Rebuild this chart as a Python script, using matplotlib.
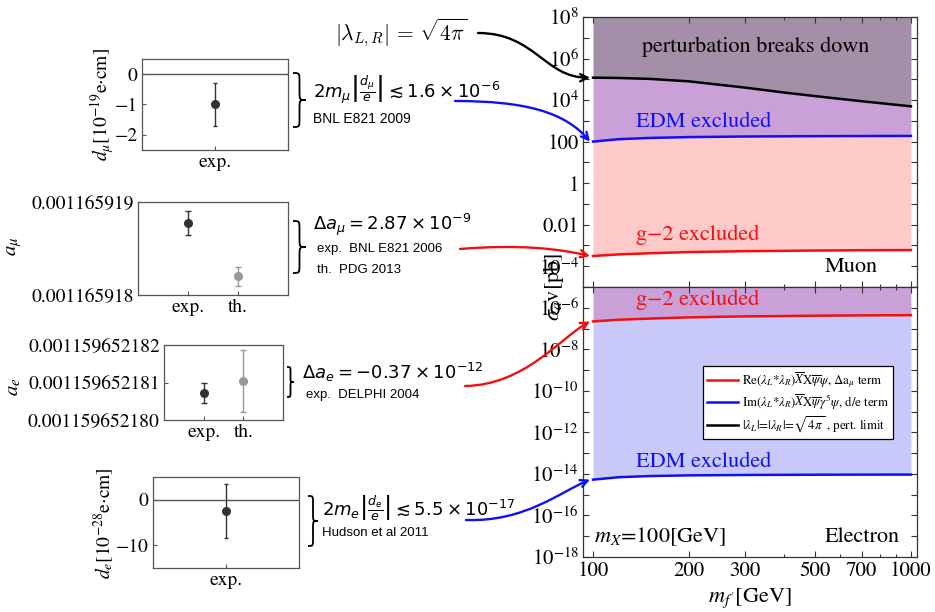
import matplotlib
matplotlib.use("Agg")
import matplotlib.pyplot as plt
from matplotlib.path import Path
from matplotlib.patches import PathPatch, FancyArrowPatch
from matplotlib.lines import Line2D
from matplotlib.ticker import FixedLocator, NullLocator, NullFormatter

plt.rcParams['font.family'] = ['STIXGeneral', 'DejaVu Serif']
plt.rcParams['mathtext.fontset'] = 'stix'

W, H = 935, 612

# ---- main plot data (sigma v in pb vs m_f' in GeV) ----
m_f = [100, 120, 150, 200, 300, 400, 500, 700, 1000]
muon_g2 = [3.1e-4, 3.7e-4, 4.2e-4, 4.8e-4, 5.3e-4, 5.5e-4, 5.7e-4, 5.9e-4, 6.0e-4]
muon_edm = [100, 130, 150, 165, 176, 180, 183, 186, 188]
pert_limit = [1.2e5, 1.16e5, 1.05e5, 8.0e4, 4.0e4, 2.3e4, 1.55e4, 8.8e3, 5.0e3]
elec_g2 = [2.2e-7, 2.65e-7, 3.0e-7, 3.45e-7, 3.85e-7, 4.0e-7, 4.15e-7, 4.3e-7, 4.4e-7]
elec_edm = [5.3e-15, 6.9e-15, 7.9e-15, 8.5e-15, 8.9e-15, 9.05e-15, 9.15e-15, 9.25e-15, 9.3e-15]

x_ticks = [100, 200, 300, 500, 700, 1000]
x_minor = [400, 600, 800, 900]
up_labels = {8: '$10^{8}$', 6: '$10^{6}$', 4: '$10^{4}$', 2: '100', 0: '1', -2: '0.01', -4: '$10^{-4}$'}
lo_labels = {k: '$10^{%d}$' % k for k in range(-18, -5, 2)}

legend_labels = [
    r'Re($\lambda_L$*$\lambda_R$)$\overline{X}$X$\overline{\psi}\psi$, $\Delta$a$_\mu$ term',
    r'Im($\lambda_L$*$\lambda_R$)$\overline{X}$X$\overline{\psi}\gamma^5\psi$, d/e term',
    r'$|\lambda_L|$=$|\lambda_R|$=$\sqrt{4\,\pi}$ , pert. limit',
]

# ---- small panels data ----
d_mu_val, d_mu_err = [-1.0], [0.7]
a_mu_vals = [0.00116591877, 0.00116591820]
a_mu_errs = [0.13e-9, 0.10e-9]
a_e_vals = [0.00115965218072, 0.00115965218104]
a_e_errs = [0.27e-12, 0.83e-12]
d_e_val, d_e_err = [-2.4], [5.9]

fig = plt.figure(figsize=(W / 100, H / 100), dpi=100)


def rect(x0, y0, x1, y1):
    return [x0 / W, 1 - y1 / H, (x1 - x0) / W, (y1 - y0) / H]


def fp(x, y):
    return (x / W, 1 - y / H)


red = '#f01010'
blue = '#1010f0'

# ---- main panels ----
ax_up = fig.add_axes(rect(583, 17, 917, 287))
ax_lo = fig.add_axes(rect(583, 287, 917, 557))

ax_up.fill_between(m_f, pert_limit, 1e8, color='#a38fa8', lw=0)
ax_up.fill_between(m_f, muon_edm, pert_limit, color='#c9a1d8', lw=0)
ax_up.fill_between(m_f, muon_g2, muon_edm, color='#fdc9c9', lw=0)
ax_up.plot(m_f, pert_limit, color='black', lw=1.8)
ax_up.plot(m_f, muon_edm, color=blue, lw=1.8)
ax_up.plot(m_f, muon_g2, color=red, lw=1.8)

ax_lo.fill_between(m_f, elec_g2, 1e-5, color='#c9a1d8', lw=0)
ax_lo.fill_between(m_f, elec_edm, elec_g2, color='#c9c9f9', lw=0)
l_red, = ax_lo.plot(m_f, elec_g2, color=red, lw=1.8)
l_blue, = ax_lo.plot(m_f, elec_edm, color=blue, lw=1.8)

for ax, lo, hi, labs in [(ax_up, -5, 8, up_labels), (ax_lo, -18, -5, lo_labels)]:
    ax.set_xscale('log')
    ax.set_yscale('log')
    ax.set_xlim(93, 1045)
    ax.set_ylim(10.0 ** lo, 10.0 ** hi)
    ks = list(range(lo, hi + 1))
    ax.set_yticks([10.0 ** k for k in ks])
    ax.set_yticklabels([labs.get(k, '') for k in ks])
    ax.yaxis.set_minor_locator(NullLocator())
    ax.set_xticks(x_ticks)
    ax.set_xticklabels([str(v) for v in x_ticks])
    ax.xaxis.set_minor_locator(FixedLocator(x_minor))
    ax.xaxis.set_minor_formatter(NullFormatter())
    ax.tick_params(which='both', direction='in', top=True, right=True,
                   labelsize=15, length=4, width=0.8, color='#333', pad=3)
    ax.tick_params(which='minor', length=2.5)
    for s in ax.spines.values():
        s.set_color('#333')
        s.set_linewidth(0.9)
ax_up.tick_params(labelbottom=False)

ax_lo.legend([l_red, l_blue, Line2D([], [], color='black', lw=1.8)], legend_labels,
             loc='upper right', bbox_to_anchor=(0.928, 0.707), fontsize=9.3,
             frameon=True, fancybox=False, framealpha=1, edgecolor='black',
             handlelength=2.4, handletextpad=0.3, borderpad=0.3, labelspacing=0.2,
             borderaxespad=0)
ax_lo.get_legend().get_frame().set_linewidth(0.9)

fig.text(*fp(756, 47), 'perturbation breaks down', fontsize=16, ha='center', va='center')
fig.text(*fp(636, 122), 'EDM excluded', fontsize=16, color=blue, va='center')
fig.text(*fp(636, 235), 'g\u22122 excluded', fontsize=16, color=red, va='center')
fig.text(*fp(825, 267), 'Muon', fontsize=16, va='center')
fig.text(*fp(636, 300), 'g\u22122 excluded', fontsize=16, color=red, va='center')
fig.text(*fp(636, 462), 'EDM excluded', fontsize=16, color=blue, va='center')
fig.text(*fp(594, 537), r'$m_X$=100[GeV]', fontsize=16, va='center')
fig.text(*fp(825, 537), 'Electron', fontsize=16, va='center')
fig.text(*fp(553, 287), r'$\sigma_a$v[pb]', fontsize=16, rotation=90, ha='center', va='center')
fig.text(*fp(750, 598), r"$m_{f'}$[GeV]", fontsize=16, ha='center', va='center')

# ---- small panels ----
grey = '#555555'


def style_small(ax):
    for s in ax.spines.values():
        s.set_color(grey)
        s.set_linewidth(0.9)
    ax.tick_params(direction='in', length=3, color=grey, labelsize=14, pad=3)


ax1 = fig.add_axes(rect(142, 59, 288, 150))
ax1.axhline(0, color=grey, lw=1)
ax1.errorbar([1], d_mu_val, yerr=d_mu_err, fmt='o', color='#333', ms=5.5, capsize=1.5, elinewidth=1)
ax1.set_xlim(0, 2)
ax1.set_ylim(-2.5, 0.5)
ax1.set_xticks([1])
ax1.set_xticklabels(['exp.'])
ax1.set_yticks([0, -1, -2])
ax1.set_yticklabels(['0', '\u22121', '\u22122'])
style_small(ax1)

ax2 = fig.add_axes(rect(138, 202, 288, 295))
ax2.errorbar([1], a_mu_vals[:1], yerr=a_mu_errs[:1], fmt='o', color='#333', ms=5.5, capsize=2, elinewidth=1)
ax2.errorbar([2], a_mu_vals[1:], yerr=a_mu_errs[1:], fmt='o', color='#999999', ms=5.5, capsize=2, elinewidth=1)
ax2.set_xlim(0, 3)
ax2.set_ylim(0.001165918, 0.001165919)
ax2.set_xticks([1, 2])
ax2.set_xticklabels(['exp.', 'th.'])
ax2.set_yticks([0.001165918, 0.001165919])
ax2.set_yticklabels(['0.001165918', '0.001165919'])
style_small(ax2)

ax3 = fig.add_axes(rect(164, 345, 283, 420))
ax3.errorbar([1], a_e_vals[:1], yerr=a_e_errs[:1], fmt='o', color='#333', ms=5.5, capsize=2, elinewidth=1)
ax3.errorbar([2], a_e_vals[1:], yerr=a_e_errs[1:], fmt='o', color='#999999', ms=5.5, capsize=2, elinewidth=1)
ax3.set_xlim(0, 3)
ax3.set_ylim(0.001159652180, 0.001159652182)
ax3.set_xticks([1, 2])
ax3.set_xticklabels(['exp.', 'th.'])
ax3.set_yticks([0.001159652180, 0.001159652181, 0.001159652182])
ax3.set_yticklabels(['0.001159652180', '0.001159652181', '0.001159652182'])
style_small(ax3)

ax4 = fig.add_axes(rect(153, 477, 299, 568))
ax4.axhline(0, color=grey, lw=1)
ax4.errorbar([1], d_e_val, yerr=d_e_err, fmt='o', color='#333', ms=5.5, capsize=1.5, elinewidth=1)
ax4.set_xlim(0, 2)
ax4.set_ylim(-15, 5)
ax4.set_xticks([1])
ax4.set_xticklabels(['exp.'])
ax4.set_yticks([0, -10])
ax4.set_yticklabels(['0', '\u221210'])
style_small(ax4)

fig.text(*fp(102, 105), r'$d_\mu$[10$^{-19}$e$\cdot$cm]', fontsize=14, rotation=90, ha='center', va='center')
fig.text(*fp(14, 246), r'$a_\mu$', fontsize=15, rotation=90, ha='center', va='center')
fig.text(*fp(13, 387), r'$a_e$', fontsize=15, rotation=90, ha='center', va='center')
fig.text(*fp(104, 523), r'$d_e$[10$^{-28}$e$\cdot$cm]', fontsize=14, rotation=90, ha='center', va='center')


# ---- braces and notes ----
def brace(x, y0, y1, w):
    ym = (y0 + y1) / 2
    h = w / 2
    r = min(w * 0.7, (y1 - y0) / 6)
    verts = [(x, y0), (x + h, y0), (x + h, y0), (x + h, y0 + r),
             (x + h, ym - r), (x + h, ym), (x + h, ym), (x + w, ym),
             (x + h, ym), (x + h, ym), (x + h, ym + r),
             (x + h, y1 - r), (x + h, y1), (x + h, y1), (x, y1)]
    codes = [Path.MOVETO] + [Path.CURVE4] * 3 + [Path.LINETO] + [Path.CURVE4] * 6 + \
            [Path.LINETO] + [Path.CURVE4] * 3
    p = PathPatch(Path([fp(*v) for v in verts], codes), fill=False, lw=1.3,
                  edgecolor='black', transform=fig.transFigure)
    fig.add_artist(p)


brace(293, 73, 127, 13)
brace(293, 221, 273, 13)
brace(287, 367, 397, 7)
brace(308, 496, 546, 10)

sans = dict(family=['Liberation Sans', 'DejaVu Sans'], math_fontfamily='dejavusans', va='center')
fig.text(*fp(313, 90), r'$2m_\mu\left|\frac{d_\mu}{e}\right|\lesssim 1.6\times10^{-6}$', fontsize=13, **sans)
fig.text(*fp(313, 119), 'BNL E821 2009', fontsize=10, **sans)
fig.text(*fp(313, 225), r'$\Delta a_\mu = 2.87\times10^{-9}$', fontsize=13, **sans)
fig.text(*fp(317, 249), 'exp.  BNL E821 2006', fontsize=9.5, **sans)
fig.text(*fp(317, 270), 'th.  PDG 2013', fontsize=9.5, **sans)
fig.text(*fp(302, 372), r'$\Delta a_e = -0.37\times10^{-12}$', fontsize=13, **sans)
fig.text(*fp(306, 395), 'exp.  DELPHI 2004', fontsize=9.5, **sans)
fig.text(*fp(322, 507), r'$2m_e\left|\frac{d_e}{e}\right|\lesssim 5.5\times10^{-17}$', fontsize=13, **sans)
fig.text(*fp(322, 533), 'Hudson et al 2011', fontsize=9.5, **sans)
fig.text(*fp(335, 33), r'$|\lambda_{L,R}|\,=\,\sqrt{4\pi}$', fontsize=15.5, math_fontfamily='cm', va='center')


# ---- curved arrows from notes to curve starts ----
inv = fig.transFigure.inverted()


def arrow(ax, start, c1, c2, xval, yval, color):
    ex, ey = inv.transform(ax.transData.transform((xval, yval)))
    end = (ex - 3 / W, ey)
    verts = [fp(*start), fp(*c1), fp(*c2), end]
    codes = [Path.MOVETO, Path.CURVE4, Path.CURVE4, Path.CURVE4]
    a = FancyArrowPatch(path=Path(verts, codes), arrowstyle='->', mutation_scale=13,
                        color=color, lw=1.7, transform=fig.transFigure)
    fig.add_artist(a)


arrow(ax_up, (478, 33), (535, 33), (545, 78), m_f[0], pert_limit[0], 'black')
arrow(ax_up, (455, 101), (525, 101), (565, 112), m_f[0], muon_edm[0], blue)
arrow(ax_up, (460, 249), (520, 244), (560, 249), m_f[0], muon_g2[0], red)
arrow(ax_lo, (465, 386), (525, 385), (560, 338), m_f[0], elec_g2[0], red)
arrow(ax_lo, (466, 520), (525, 522), (560, 492), m_f[0], elec_edm[0], blue)

fig.savefig('out.png', dpi=100)
